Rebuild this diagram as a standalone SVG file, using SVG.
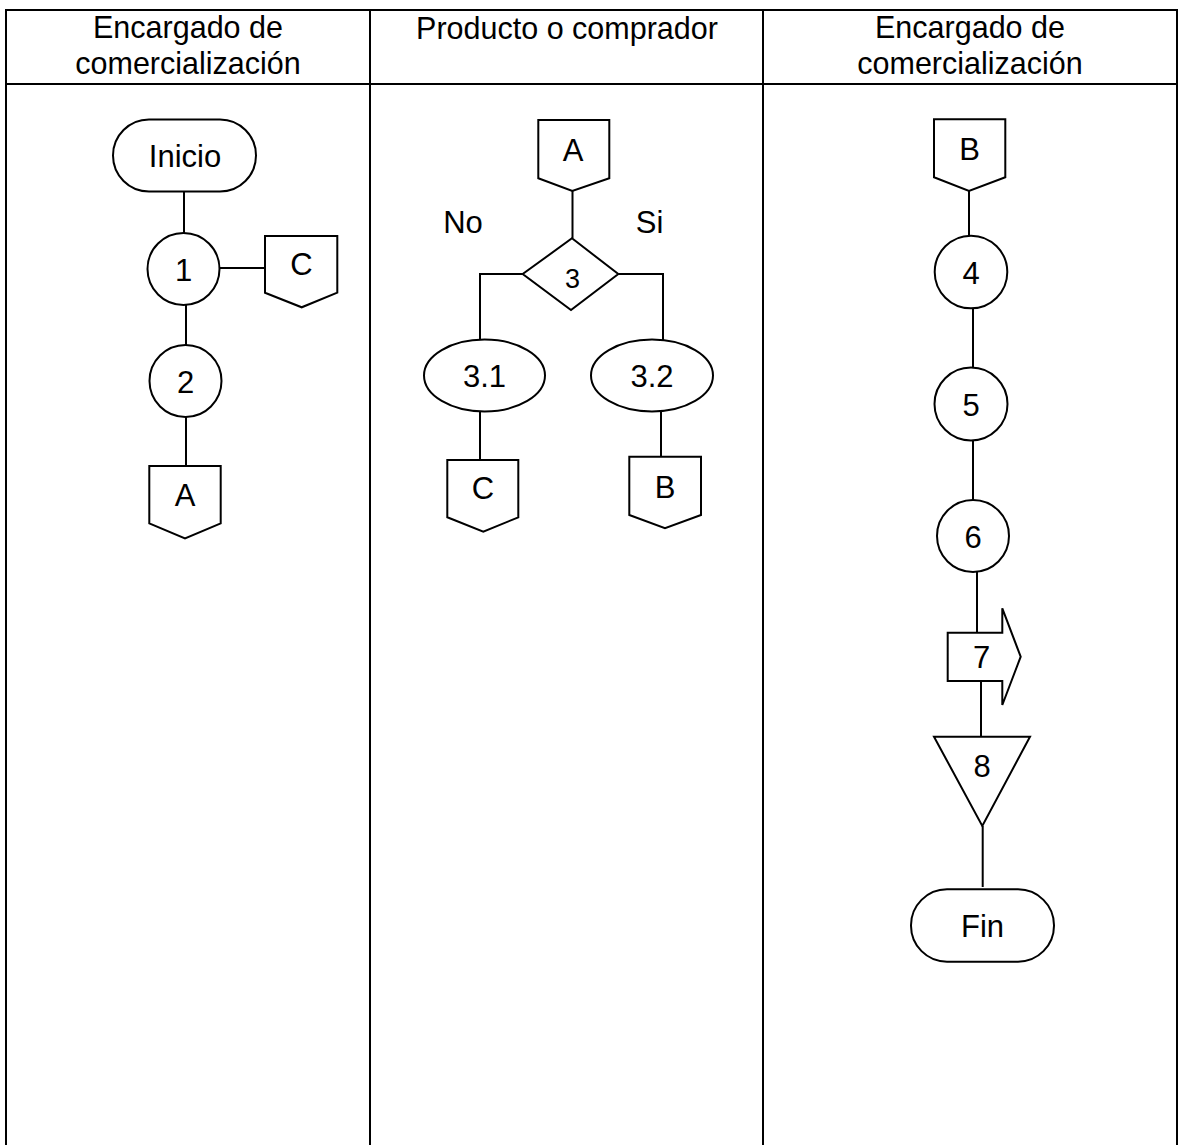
<svg xmlns="http://www.w3.org/2000/svg" width="1179" height="1145" viewBox="0 0 1179 1145">
<style>
.s{fill:#fff;stroke:#000;stroke-width:2}
.c{fill:none;stroke:#000;stroke-width:2}
.t{font-family:"Liberation Sans",Arial,sans-serif;font-size:31px;fill:#000;text-anchor:middle}
.h{font-family:"Liberation Sans",Arial,sans-serif;font-size:30.5px;fill:#000;text-anchor:middle}
</style>
<rect width="1179" height="1145" fill="#fff"/>
<g id="table">
<path class="c" d="M6 10 H1177 M6 84 H1177 M6 9 V1145 M370 10 V1145 M763 10 V1145 M1177 9 V1145"/>
<text class="h" x="188" y="38">Encargado de</text>
<text class="h" x="188" y="74">comercialización</text>
<text class="h" x="567" y="39">Producto o comprador</text>
<text class="h" x="970" y="38">Encargado de</text>
<text class="h" x="970" y="74">comercialización</text>
</g>
<g id="connectors">
<path class="c" d="M184 191 V237 M217 268 H265 M186 302 V348 M186 416 V466"/>
<path class="c" d="M572.5 191 V238 M522.7 274 H480 V340 M618.3 274 H663 V340 M480 411.7 V460 M661 411.7 V457"/>
<path class="c" d="M969 191 V236 M973 308 V368 M973 441 V500 M977 572 V633 M981 681 V737 M982.7 826 V887"/>
<text class="t" x="463" y="233">No</text>
<text class="t" x="649.5" y="233">Si</text>
</g>
<g id="inicio"><rect class="s" x="113" y="119.5" width="143" height="72" rx="36" ry="36"/><text class="t" x="185" y="167">Inicio</text></g>
<g id="n1"><circle class="s" cx="183.5" cy="269" r="36"/><text class="t" x="183.5" y="281">1</text></g>
<g id="offC1"><path class="s" d="M265 236 H337.3 V292.7 L301.7 307.3 L265 292.7 Z"/><text class="t" x="301.5" y="275">C</text></g>
<g id="n2"><circle class="s" cx="185.5" cy="381" r="36"/><text class="t" x="185.5" y="393">2</text></g>
<g id="offA1"><path class="s" d="M149.3 466 H220.7 V523.3 L185 538.3 L149.3 523.3 Z"/><text class="t" x="185" y="506">A</text></g>
<g id="offA2"><path class="s" d="M538.3 120 H609.3 V178.3 L572.3 191 L538.3 178.3 Z"/><text class="t" x="573" y="161">A</text></g>
<g id="d3"><path class="s" d="M572 238.3 L618.3 274 L571 310 L522.7 274 Z"/><text class="t" x="572.5" y="288" style="font-size:27px">3</text></g>
<g id="n31"><ellipse class="s" cx="484.5" cy="375.5" rx="60.5" ry="36"/><text class="t" x="484.5" y="387">3.1</text></g>
<g id="n32"><ellipse class="s" cx="652" cy="375.5" rx="61" ry="36"/><text class="t" x="652" y="387">3.2</text></g>
<g id="offC2"><path class="s" d="M447.3 460 H518.3 V517.3 L483.3 531.7 L447.3 517.3 Z"/><text class="t" x="483" y="499">C</text></g>
<g id="offB2"><path class="s" d="M629.3 456.7 H701 V515 L665 528.3 L629.3 515 Z"/><text class="t" x="665" y="498">B</text></g>
<g id="offB3"><path class="s" d="M934 119.3 H1005.3 V177.3 L969 191 L934 177.3 Z"/><text class="t" x="969.5" y="160">B</text></g>
<g id="n4"><circle class="s" cx="971" cy="272" r="36.3"/><text class="t" x="971" y="284">4</text></g>
<g id="n5"><circle class="s" cx="971" cy="404" r="36.5"/><text class="t" x="971" y="416">5</text></g>
<g id="n6"><circle class="s" cx="973" cy="536" r="36"/><text class="t" x="973" y="548">6</text></g>
<g id="n7"><path class="s" d="M947.7 632.7 H1002.3 V608.3 L1020.7 656.7 L1002.3 705 V681 H947.7 Z"/><text class="t" x="981.5" y="668">7</text></g>
<g id="n8"><path class="s" d="M934 736.7 H1030 L982.3 826 Z"/><text class="t" x="982" y="777">8</text></g>
<g id="fin"><rect class="s" x="911" y="889.3" width="143" height="72.4" rx="36" ry="36"/><text class="t" x="982.5" y="937">Fin</text></g>
</svg>
